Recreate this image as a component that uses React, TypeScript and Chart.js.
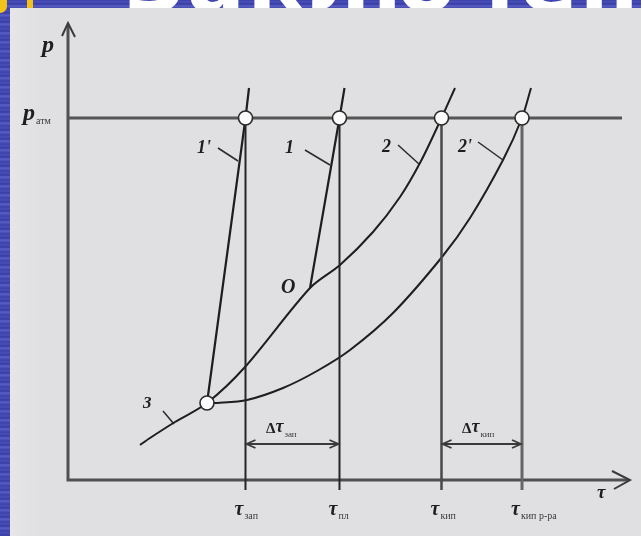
import React, { useEffect, useRef } from 'react';
import { Chart, registerables } from 'chart.js';

Chart.register(...registerables);

// ---- data (schematic units) ----
const X_MAX = 112.4;
const Y_MAX = 91.4;
const tauNames = ['зап', 'пл', 'кип', 'кип р-ра'];
const tauValues = [35.5, 54.3, 74.7, 90.8];
const pAtm = 72.4;
const pAtmEnd = 110.8;
const verticalBottom = -2;
const deltaY = 7.2;

const curve2X = [14.4, 16.4, 21.4, 27.8, 35.4, 48.4, 54.4, 61, 66.4, 70.6, 74.7, 77.4];
const curve2Y = [7, 8.4, 11.6, 15.4, 22.6, 38.4, 43, 49.6, 56.6, 63.8, 72.4, 78.4];
const curve2pX = [27.8, 29.8, 35.8, 43, 49.8, 56.4, 65, 74.8, 80.4, 87, 90.8, 92.6];
const curve2pY = [15.4, 15.4, 16, 18.4, 21.8, 26, 33.4, 44.6, 52.4, 64, 72.4, 78.4];
const line1pX = [27.8, 35.5, 36.2];
const line1pY = [15.4, 72.4, 78.4];
const line1X = [48.4, 54.3, 55.3];
const line1Y = [38.4, 72.4, 78.4];
const circleX = [35.5, 54.3, 74.7, 90.8, 27.8];
const circleY = [72.4, 72.4, 72.4, 72.4, 15.4];

const leaderX1 = [30, 47.4, 66, 82, 19];
const leaderY1 = [66.4, 66, 67, 67.6, 13.8];
const leaderX2 = [34, 52.4, 70.2, 87, 21.2];
const leaderY2 = [63.8, 63, 63.2, 64, 11.2];

const curveLabels = ["1'", '1', '2', "2'", 'O', '3'];
const curveLabelX = [25.8, 43.4, 62.8, 78, 42.6, 15];
const curveLabelY = [65.4, 65.4, 65.6, 65.6, 37.4, 14.4];

const zip = (xs: number[], ys: number[]) => xs.map((x, i) => ({ x, y: ys[i] }));

const SERIF = '"Liberation Serif", "DejaVu Serif", serif';
const INK = '#1e1e1e';

const drawComposite = (
  ctx: CanvasRenderingContext2D,
  px: number,
  py: number,
  main: string,
  mainFont: string,
  sub: string,
  subFont: string,
  subDy: number,
  color = INK,
  subColor = '#3a3a3a'
) => {
  ctx.textAlign = 'left';
  ctx.textBaseline = 'alphabetic';
  ctx.font = mainFont;
  ctx.fillStyle = color;
  ctx.fillText(main, px, py);
  const w = ctx.measureText(main).width;
  if (sub) {
    ctx.font = subFont;
    ctx.fillStyle = subColor;
    ctx.fillText(sub, px + w + 1, py + subDy);
  }
};

const decorPlugin = {
  id: 'decor',
  beforeDatasetsDraw(chart: any) {
    const { ctx, scales } = chart;
    const xs = scales.x;
    const ys = scales.y;
    const x0 = xs.getPixelForValue(0);
    const y0 = ys.getPixelForValue(0);
    const xEnd = xs.getPixelForValue(X_MAX);
    const yTop = ys.getPixelForValue(Y_MAX);
    ctx.save();
    ctx.strokeStyle = '#505050';
    ctx.lineWidth = 3;
    ctx.lineCap = 'butt';
    ctx.beginPath();
    ctx.moveTo(x0, y0 + 1.5);
    ctx.lineTo(x0, yTop + 2);
    ctx.moveTo(x0 - 1.5, y0);
    ctx.lineTo(xEnd - 2, y0);
    ctx.stroke();
    // arrowheads
    ctx.lineWidth = 2;
    ctx.strokeStyle = '#3a3a3a';
    ctx.beginPath();
    ctx.moveTo(x0 - 6, yTop + 13);
    ctx.lineTo(x0, yTop);
    ctx.lineTo(x0 + 7, yTop + 14);
    ctx.moveTo(xEnd - 18, y0 - 9);
    ctx.lineTo(xEnd, y0);
    ctx.lineTo(xEnd - 16, y0 + 9);
    ctx.stroke();
    ctx.restore();
  },
  afterDatasetsDraw(chart: any) {
    const { ctx, scales } = chart;
    const xs = scales.x;
    const ys = scales.y;
    const P = (x: number, y: number) => [xs.getPixelForValue(x), ys.getPixelForValue(y)];
    ctx.save();
    // delta arrowheads
    ctx.strokeStyle = '#3a3a3a';
    ctx.lineWidth = 1.8;
    [[0, 1], [2, 3]].forEach(([a, b]) => {
      const [xa, ya] = P(tauValues[a], deltaY);
      const [xb] = P(tauValues[b], deltaY);
      ctx.beginPath();
      ctx.moveTo(xa + 10, ya - 4);
      ctx.lineTo(xa + 1, ya);
      ctx.lineTo(xa + 10, ya + 4);
      ctx.moveTo(xb - 10, ya - 4);
      ctx.lineTo(xb - 1, ya);
      ctx.lineTo(xb - 10, ya + 4);
      ctx.stroke();
    });

    const italic = (s: number, w = 'normal') => `italic ${w} ${s}px ${SERIF}`;
    const reg = (s: number) => `${s}px ${SERIF}`;

    // axis labels
    let [px, py] = P(-5.2, 85.6);
    drawComposite(ctx, px, py, 'p', italic(24, 'bold'), '', '', 0);
    [px, py] = P(-9, 72);
    drawComposite(ctx, px, py, 'p', italic(24, 'bold'), 'атм', reg(10), 4);
    [px, py] = P(105.8, -3.6);
    drawComposite(ctx, px, py, 'τ', italic(19, 'bold'), '', '', 0);

    // tau tick labels
    tauValues.forEach((t, i) => {
      const [tx, ty] = P(t - 2.2, -7);
      drawComposite(ctx, tx, ty, 'τ', italic(20, 'bold'), tauNames[i], reg(10), 4);
    });

    // delta labels
    [[0, 'зап'], [2, 'кип']].forEach(([i, name]) => {
      const [dx, dy] = P(tauValues[i as number] + 4.1, 9.4);
      ctx.textAlign = 'left';
      ctx.textBaseline = 'alphabetic';
      ctx.font = `bold 15px ${SERIF}`;
      ctx.fillStyle = INK;
      ctx.fillText('Δ', dx, dy);
      const w = ctx.measureText('Δ').width;
      drawComposite(ctx, dx + w, dy - 1, 'τ', italic(18, 'bold'), name as string, reg(9), 5);
    });

    // curve labels
    curveLabels.forEach((lab, i) => {
      const [lx, ly] = P(curveLabelX[i], curveLabelY[i]);
      const size = lab === 'O' ? 20 : lab === '3' ? 17 : 18;
      drawComposite(ctx, lx, ly, lab, italic(size, 'bold'), '', '', 0);
    });
    ctx.restore();
  },
};

const lineDs = (data: any[], color: string, width: number, smooth = false) => ({
  data,
  showLine: true,
  borderColor: color,
  borderWidth: width,
  pointRadius: 0,
  fill: false,
  clip: false as any,
  tension: smooth ? 0.3 : 0,
  order: 2,
});

export default function App() {
  const ref = useRef<HTMLCanvasElement | null>(null);

  useEffect(() => {
    if (!ref.current) return;
    const verticalColors = ['#262626', '#262626', '#4a4a4a', '#666666'];
    const verticalWidths = [2, 2, 2.5, 3];
    const datasets: any[] = [
      lineDs([{ x: 0, y: pAtm }, { x: pAtmEnd, y: pAtm }], '#555555', 3),
      ...tauValues.map((t, i) =>
        lineDs([{ x: t, y: pAtm }, { x: t, y: verticalBottom }], verticalColors[i], verticalWidths[i])
      ),
      lineDs(zip(curve2X, curve2Y), INK, 2, true),
      lineDs(zip(curve2pX, curve2pY), INK, 2, true),
      lineDs(zip(line1pX, line1pY), INK, 2.2),
      lineDs(zip(line1X, line1Y), INK, 2.2),
      ...leaderX1.map((lx, i) =>
        lineDs([{ x: lx, y: leaderY1[i] }, { x: leaderX2[i], y: leaderY2[i] }], '#2a2a2a', 1.5)
      ),
      lineDs([{ x: tauValues[0], y: deltaY }, { x: tauValues[1], y: deltaY }], '#3a3a3a', 2),
      lineDs([{ x: tauValues[2], y: deltaY }, { x: tauValues[3], y: deltaY }], '#3a3a3a', 2),
      {
        data: zip(circleX, circleY),
        showLine: false,
        pointRadius: 7,
        pointBackgroundColor: '#fbfbfb',
        pointBorderColor: '#2a2a2a',
        pointBorderWidth: 1.6,
        clip: false,
        order: 1,
      },
    ];
    const chart = new Chart(ref.current, {
      type: 'scatter',
      data: { datasets },
      options: {
        animation: false,
        responsive: false,
        devicePixelRatio: 1,
        events: [],
        layout: { padding: { left: 68, right: 11, top: 23, bottom: 56 } },
        scales: {
          x: { type: 'linear', min: 0, max: X_MAX, display: false },
          y: { type: 'linear', min: 0, max: Y_MAX, display: false },
        },
        plugins: { legend: { display: false }, tooltip: { enabled: false } },
      },
      plugins: [decorPlugin],
    });
    return () => chart.destroy();
  }, []);

  return (
    <div
      style={{
        position: 'fixed',
        left: 0,
        top: 0,
        width: 641,
        height: 536,
        overflow: 'hidden',
        background:
          'repeating-linear-gradient(180deg, #3d41ab 0px, #4b50b9 2px, #363aa3 4px, #5a60c4 6px, #3d41ab 9px)',
      }}
    >
      <div
        style={{
          position: 'absolute',
          left: 124,
          top: -62,
          fontFamily: '"DejaVu Sans", sans-serif',
          fontWeight: 'bold',
          fontSize: 86,
          lineHeight: '86px',
          color: '#ffffff',
          whiteSpace: 'nowrap',
          letterSpacing: 2,
        }}
      >
        Заключение
      </div>
      <div style={{ position: 'absolute', left: 0, top: 0, width: 7, height: 13, background: '#f2c41a', borderBottomRightRadius: 7 }} />
      <div style={{ position: 'absolute', left: 27, top: 0, width: 6, height: 13, background: '#f2c41a' }} />
      <div
        style={{
          position: 'absolute',
          left: 10,
          top: 8,
          width: 631,
          height: 528,
          background: 'linear-gradient(90deg, #e6e5e7 0px, #e0dfe1 30px, #e0dfe1 100%)',
        }}
      />
      <canvas
        ref={ref}
        width={641}
        height={536}
        style={{ position: 'absolute', left: 0, top: 0, width: 641, height: 536 }}
      />
    </div>
  );
}
